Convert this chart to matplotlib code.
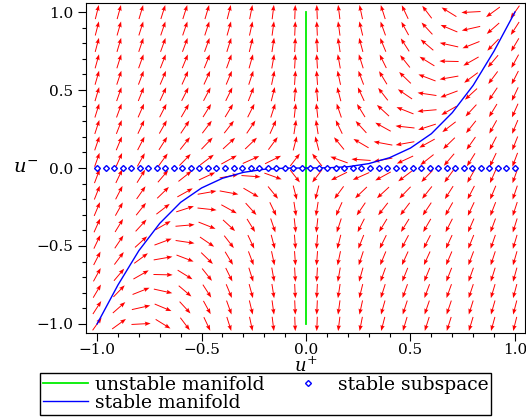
import numpy as np
import matplotlib
matplotlib.use("Agg")
import matplotlib.pyplot as plt
from matplotlib.ticker import MultipleLocator

plt.rcParams['font.family'] = ['DejaVu Serif']
plt.rcParams['mathtext.fontset'] = 'dejavuserif'

coef_a = 1.73
coef_c = 3.63
n_grid = 20
arrow_len = 0.092

# stable manifold, points
sm_x = [-1.0, -0.9, -0.8, -0.7, -0.6, -0.5, -0.4, -0.3, -0.2, -0.1, 0.0,
        0.1, 0.2, 0.3, 0.4, 0.5, 0.6, 0.7, 0.8, 0.9, 1.0]
sm_y = [-1.0, -0.75, -0.53, -0.355, -0.22, -0.128, -0.066, -0.028, -0.008, -0.001, 0.0,
        0.001, 0.008, 0.028, 0.066, 0.128, 0.22, 0.355, 0.53, 0.75, 1.0]

# unstable manifold (vertical line)
um_x = [0.0, 0.0]
um_y = [-1.0, 1.0]

# stable subspace sample points
ss_x = np.linspace(-1, 1, 50)
ss_y = np.zeros_like(ss_x)

g = np.linspace(-1, 1, n_grid)
X, Y = np.meshgrid(g, g)
U = -X
V = coef_a * Y - coef_c * X**3
norm = np.hypot(U, V)
norm[norm == 0] = 1
U = U / norm * arrow_len
V = V / norm * arrow_len

fig = plt.figure(figsize=(5.26, 4.20), dpi=100)
ax = fig.add_axes([86/526, 1-333/420, 439/526, 330/420])

ax.quiver(X, Y, U, V, angles='xy', scale_units='xy', scale=1, pivot='middle',
          color='#ff0000', width=0.0022, headwidth=4.5, headlength=6,
          headaxislength=5.3, zorder=2)

l1, = ax.plot(um_x, um_y, color='#00ee00', lw=1.3, zorder=3, label='unstable manifold')
l2, = ax.plot(sm_x, sm_y, color='#0000ff', lw=1.0, zorder=3, label='stable manifold')
l3, = ax.plot(ss_x, ss_y, ls='none', marker='D', ms=3.0, mfc='white', mec='#0000ff',
              mew=1.0, zorder=4, label='stable subspace')

ax.set_xlim(-1.053, 1.048)
ax.set_ylim(-1.058, 1.058)
ax.xaxis.set_major_locator(MultipleLocator(0.5))
ax.yaxis.set_major_locator(MultipleLocator(0.5))
ax.xaxis.set_minor_locator(MultipleLocator(0.1))
ax.yaxis.set_minor_locator(MultipleLocator(0.1))
ax.xaxis.set_major_formatter(lambda v, p: f"{v:.1f}".replace('-', '\u2212'))
ax.yaxis.set_major_formatter(lambda v, p: f"{v:.1f}".replace('-', '\u2212'))
ax.tick_params(which='major', direction='out', length=6, width=0.8, labelsize=11, pad=3)
ax.tick_params(axis='x', which='major', pad=1.5)
ax.tick_params(which='minor', direction='out', length=3, width=0.8)

ax.set_xlabel('$u^{+}$', fontsize=13, labelpad=-0.5)
ax.set_ylabel('$u^{-}$', fontsize=14, rotation=0, labelpad=8, va='center')

fig.legend(handles=[l1, l2, l3], ncol=2, loc='upper left',
           bbox_to_anchor=(40/526, 1-373/420), borderaxespad=0,
           fontsize=13.5, frameon=True, fancybox=False, edgecolor='black',
           framealpha=1, handlelength=2.4, handletextpad=0.4, columnspacing=1.1,
           labelspacing=0.0, borderpad=0.15)

fig.savefig('out.png', dpi=100)
